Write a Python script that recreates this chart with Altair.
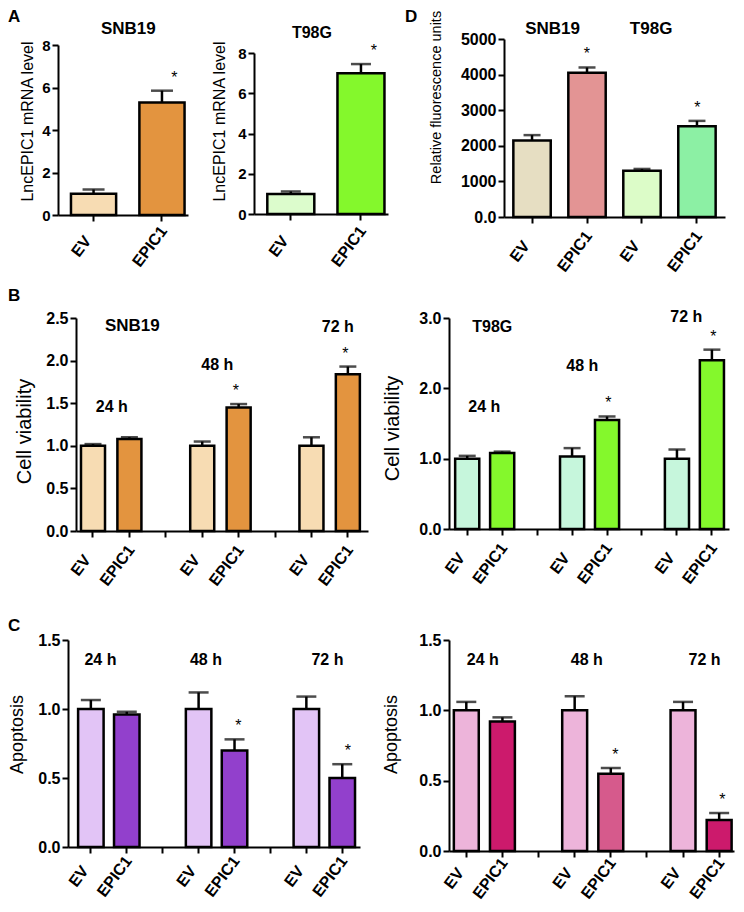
import altair as alt
import pandas as pd

FONT = "Liberation Sans, Arial, Helvetica, sans-serif"
ORIGIN = 8          # page margin: the chart's (0,0) sits at page pixel (8,8)
W, H = 728, 896

# ---------------------------------------------------------------- data
pair_groups = ["EV", "EPIC1"]

# A: LncEPIC1 mRNA level
a_snb19_mean = [1.0, 5.3]
a_snb19_upper = [1.2, 5.85]
a_t98g_mean = [1.0, 7.0]
a_t98g_upper = [1.12, 7.45]
a_sig = [False, True]

# D: relative fluorescence units
d_lines = ["SNB19", "SNB19", "T98G", "T98G"]
d_groups = ["EV", "EPIC1", "EV", "EPIC1"]
d_mean = [2150, 4050, 1300, 2550]
d_upper = [2300, 4200, 1350, 2700]
d_sig = [False, True, False, True]

# B / C: time course (24 h, 48 h, 72 h) x (EV, EPIC1)
times = ["24 h", "48 h", "72 h"]
b_snb19_mean = [1.0, 1.08, 1.0, 1.45, 1.0, 1.84]
b_snb19_upper = [1.02, 1.10, 1.05, 1.49, 1.10, 1.93]
b_t98g_mean = [1.0, 1.08, 1.03, 1.55, 1.0, 2.40]
b_t98g_upper = [1.04, 1.10, 1.15, 1.60, 1.13, 2.55]
c_snb19_mean = [1.0, 0.96, 1.0, 0.70, 1.0, 0.50]
c_snb19_upper = [1.065, 0.98, 1.12, 0.78, 1.09, 0.60]
c_t98g_mean = [1.0, 0.92, 1.0, 0.55, 1.0, 0.22]
c_t98g_upper = [1.06, 0.95, 1.10, 0.59, 1.06, 0.27]
time_sig = [False, False, False, True, False, True]

# ---------------------------------------------------------------- colours
col_a_snb19 = ["#f7dcb3", "#e3943f"]
col_a_t98g = ["#dcfccc", "#84f82c"]
col_d = ["#e6dec2", "#e39494", "#dcfcc8", "#8cf0a4"]
col_b_snb19 = ["#f7dcb3", "#e3943f"] * 3
col_b_t98g = ["#c6f6dc", "#84f82c"] * 3
col_c_snb19 = ["#e2c4f6", "#9240cc"] * 3
col_c_t98g = ["#edb4da", "#cc1a6c", "#edb4da", "#d65a8c", "#edb4da", "#cc1a6c"]

# categories (x) ------------------------------------------------------------
a_snb19_cats = [f"SNB19|{g}" for g in pair_groups]
a_t98g_cats = [f"T98G|{g}" for g in pair_groups]
d_cats = [f"{l}|{g}" for l, g in zip(d_lines, d_groups)]
t_cats = [f"{t}|{g}" for t in times for g in pair_groups]
t_domain = t_cats[0:2] + ["gap1"] + t_cats[2:4] + ["gap2"] + t_cats[4:6]

LABEL_EXPR = "indexof(datum.value, '|') < 0 ? '' : split(datum.value, '|')[1]"


def panel(cats, domain, means, uppers, sig, colors, *, ydom, yticks, yfmt,
          ypix, xpix, band, ytitle, ytitle_c, ytitle_size, ylab_size,
          cap, notes, xlab_pad=27, ylabel_expr=None):
    """Returns a flat list of layers; every layer gets identical explicit scales."""
    df = pd.DataFrame({"cat": cats, "mean": means, "upper": uppers,
                       "sig": sig, "color": colors})
    pin, pout, palign = band

    def xs():
        return alt.Scale(domain=domain, range=[xpix[0] - ORIGIN, xpix[1] - ORIGIN],
                         paddingInner=pin, paddingOuter=pout, align=palign)

    def ys():
        return alt.Scale(domain=ydom, range=[ypix[0] - ORIGIN, ypix[1] - ORIGIN],
                         nice=False)

    xaxis = alt.Axis(orient="bottom", offset=(ypix[0] - ORIGIN) - H, title=None,
                     labelExpr=LABEL_EXPR, labelAngle=307, labelAlign="center",
                     labelBaseline="middle", labelPadding=xlab_pad, labelOffset=-12,
                     labelFontSize=16, labelFontWeight="bold", tickSize=6,
                     tickWidth=2, domainWidth=2, grid=False)
    yargs = dict(orient="left", offset=-(xpix[0] - ORIGIN), values=yticks,
                 format=yfmt, title=ytitle,
                 titleX=ytitle_c[0] - xpix[0], titleY=ytitle_c[1] - ORIGIN,
                 titleAngle=270, titleBaseline="middle", titleAlign="center",
                 titleFontSize=ytitle_size, titleFontWeight="normal",
                 labelFontSize=ylab_size, labelFontWeight="bold",
                 tickSize=6, tickWidth=2, domainWidth=2, labelPadding=2, grid=False)
    if ylabel_expr:
        yargs["labelExpr"] = ylabel_expr
    yaxis = alt.Axis(**yargs)

    def xp():
        return alt.X("cat:N", scale=xs(), axis=None)

    base = alt.Chart(df)
    bars = base.mark_bar(stroke="black", strokeWidth=2.5).encode(
        x=alt.X("cat:N", scale=xs(), axis=xaxis),
        y=alt.Y("mean:Q", scale=ys(), axis=yaxis),
        color=alt.Color("color:N", scale=None))
    err = base.mark_rule(color="black", strokeWidth=2.5).encode(
        x=xp(), y=alt.Y("mean:Q", scale=ys(), axis=None), y2="upper:Q")
    capm = base.mark_tick(color="black", thickness=2.5, size=cap).encode(
        x=xp(), y=alt.Y("upper:Q", scale=ys(), axis=None))
    stars = base.transform_filter("datum.sig").mark_text(
        text="*", fontSize=16, dy=-8, baseline="alphabetic", font=FONT,
        color="black").encode(x=xp(), y=alt.Y("upper:Q", scale=ys(), axis=None))
    layers = [bars, err, capm, stars]
    for txt, cat, yv, dx, size in notes:
        ndf = pd.DataFrame({"cat": [cat], "y": [yv]})
        layers.append(alt.Chart(ndf).mark_text(
            text=txt, dx=dx, fontSize=size, fontWeight="bold", font=FONT,
            align="center", baseline="middle", color="black").encode(
            x=xp(), y=alt.Y("y:Q", scale=ys(), axis=None)))
    return layers


pA1 = panel(a_snb19_cats, a_snb19_cats, a_snb19_mean, a_snb19_upper, a_sig, col_a_snb19,
            ydom=[0, 8], yticks=[0, 2, 4, 6, 8], yfmt="d",
            ypix=(215, 45), xpix=(58, 188), band=(0.34, 0.12, 0.79),
            ytitle="LncEPIC1 mRNA level", ytitle_c=(27, 121), ytitle_size=16,
            ylab_size=15, cap=22, xlab_pad=25,
            notes=[("SNB19", "SNB19|EV", 8.75, 19, 17)])

pA2 = panel(a_t98g_cats, a_t98g_cats, a_t98g_mean, a_t98g_upper, a_sig, col_a_t98g,
            ydom=[0, 8], yticks=[0, 2, 4, 6, 8], yfmt="d",
            ypix=(214, 53), xpix=(254, 388), band=(0.33, 0.12, 0.79),
            ytitle="LncEPIC1 mRNA level", ytitle_c=(219, 121), ytitle_size=16,
            ylab_size=15, cap=20, xlab_pad=26,
            notes=[("T98G", "T98G|EV", 9.0, 5, 16)])

pD = panel(d_cats, d_cats, d_mean, d_upper, d_sig, col_d,
           ydom=[0, 5000], yticks=[0, 1000, 2000, 3000, 4000, 5000], yfmt="d",
           ylabel_expr="datum.value == 0 ? '0.0' : datum.label",
           ypix=(217, 39), xpix=(504, 725), band=(0.32, 0.17, 0.5),
           ytitle="Relative fluorescence units", ytitle_c=(436, 97), ytitle_size=14.5,
           ylab_size=16, cap=17, xlab_pad=28,
           notes=[("SNB19", "SNB19|EV", 5280, 21, 17),
                  ("T98G", "T98G|EV", 5280, 9, 17)])

pB1 = panel(t_cats, t_domain, b_snb19_mean, b_snb19_upper, time_sig, col_b_snb19,
            ydom=[0, 2.5], yticks=[0, 0.5, 1.0, 1.5, 2.0, 2.5], yfmt=".1f",
            ypix=(531, 318), xpix=(76, 368), band=(0.34, 0.18, 0.38),
            ytitle="Cell viability", ytitle_c=(24, 431), ytitle_size=20,
            ylab_size=16, cap=17, xlab_pad=28,
            notes=[("SNB19", "24 h|EPIC1", 2.41, 6, 17),
                   ("24 h", "24 h|EV", 1.455, 22, 16),
                   ("48 h", "48 h|EV", 1.95, 18, 16),
                   ("72 h", "72 h|EV", 2.39, 29, 16)])

pB2 = panel(t_cats, t_domain, b_t98g_mean, b_t98g_upper, time_sig, col_b_t98g,
            ydom=[0, 3], yticks=[0, 1, 2, 3], yfmt=".1f",
            ypix=(529, 318), xpix=(449, 729), band=(0.31, 0.16, 0.55),
            ytitle="Cell viability", ytitle_c=(392, 428), ytitle_size=20,
            ylab_size=16, cap=17, xlab_pad=28,
            notes=[("T98G", "24 h|EV", 2.87, 24, 16),
                   ("24 h", "24 h|EV", 1.735, 16, 16),
                   ("48 h", "48 h|EV", 2.32, 9, 16),
                   ("72 h", "72 h|EV", 3.01, 8, 16)])

pC1 = panel(t_cats, t_domain, c_snb19_mean, c_snb19_upper, time_sig, col_c_snb19,
            ydom=[0, 1.5], yticks=[0, 0.5, 1.0, 1.5], yfmt=".1f",
            ypix=(847, 640), xpix=(68, 360), band=(0.29, 0.21, 0.67),
            ytitle="Apoptosis", ytitle_c=(17, 734), ytitle_size=18,
            ylab_size=16, cap=20, xlab_pad=23,
            notes=[("24 h", "24 h|EV", 1.355, 8, 16),
                   ("48 h", "48 h|EV", 1.355, 4, 16),
                   ("72 h", "72 h|EV", 1.355, 16, 16)])

pC2 = panel(t_cats, t_domain, c_t98g_mean, c_t98g_upper, time_sig, col_c_t98g,
            ydom=[0, 1.5], yticks=[0, 0.5, 1.0, 1.5], yfmt=".1f",
            ypix=(851, 640), xpix=(449, 734), band=(0.31, 0.10, 0.67),
            ytitle="Apoptosis", ytitle_c=(391, 734), ytitle_size=18,
            ylab_size=16, cap=20, xlab_pad=21,
            notes=[("24 h", "24 h|EV", 1.357, 10, 16),
                   ("48 h", "48 h|EV", 1.357, 7, 16),
                   ("72 h", "72 h|EV", 1.357, 18, 16)])

# panel letters (figure annotation, placed in pixels)
letter_pos = {"A": (8, 22), "D": (405, 22), "B": (8, 301), "C": (8, 631)}
letters = [
    alt.Chart(pd.DataFrame({"k": [0]})).mark_text(
        text=k, fontSize=17, fontWeight="bold", font=FONT, align="left",
        baseline="alphabetic", color="black").encode(
        x=alt.value(p[0] - ORIGIN), y=alt.value(p[1] - ORIGIN))
    for k, p in letter_pos.items()
]

all_layers = pA1 + pA2 + pD + pB1 + pB2 + pC1 + pC2 + letters

chart = alt.layer(*all_layers).resolve_scale(
    x="independent", y="independent"
).resolve_axis(
    x="independent", y="independent"
).properties(
    width=W, height=H, padding=0, autosize=alt.AutoSizeParams(type="none")
).configure_axis(
    grid=False, domainColor="black", tickColor="black", labelColor="black",
    titleColor="black", labelFont=FONT, titleFont=FONT
).configure_view(stroke=None).configure_text(font=FONT)

chart.save("out.html", embed_options={"renderer": "svg", "actions": False})
